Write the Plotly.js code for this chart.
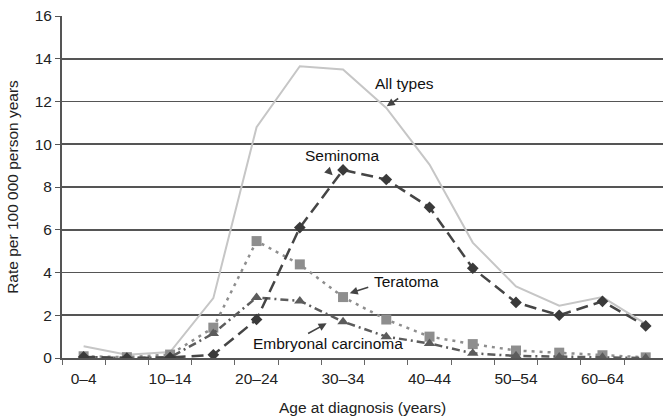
<!DOCTYPE html>
<html>
<head>
<meta charset="utf-8">
<script src="https://cdn.plot.ly/plotly-3.0.1.min.js"></script>
<style>html,body{margin:0;padding:0;background:#fff;}#chart{width:663px;height:420px;}</style>
</head>
<body>
<div id="chart"></div>
<script>
var ageGroups = ['0–4','5–9','10–14','15–19','20–24','25–29','30–34','35–39','40–44','45–49','50–54','55–59','60–64','65+'];
var tickLabels = ['0–4','','10–14','','20–24','','30–34','','40–44','','50–54','','60–64',''];
var allTypes  = [0.55, 0.15, 0.28, 2.8, 10.8, 13.65, 13.5, 11.7, 9.05, 5.4, 3.35, 2.45, 2.85, 1.6];
var seminoma  = [0.05, 0.0, 0.02, 0.15, 1.8, 6.1, 8.8, 8.35, 7.05, 4.2, 2.6, 2.0, 2.65, 1.5];
var teratoma  = [0.08, 0.04, 0.16, 1.42, 5.47, 4.38, 2.85, 1.8, 1.0, 0.65, 0.35, 0.25, 0.13, 0.03];
var embryonal = [0.05, 0.0, 0.03, 1.15, 2.83, 2.67, 1.7, 1.0, 0.68, 0.22, 0.1, 0.05, 0.03, 0.0];
var yTicks = [0, 2, 4, 6, 8, 10, 12, 14, 16];

var FONT = '"Liberation Sans", Arial, Helvetica, sans-serif';

var traces = [
  {x: ageGroups, y: allTypes, name: 'All types', type: 'scatter', mode: 'lines',
   line: {color: '#c6c6c6', width: 2}},
  {x: ageGroups, y: teratoma, name: 'Teratoma', type: 'scatter', mode: 'lines+markers',
   line: {color: '#8e8e8e', width: 2.5, dash: '3px,5px'},
   marker: {symbol: 'square', size: 10, color: '#8e8e8e'}},
  {x: ageGroups, y: embryonal, name: 'Embryonal carcinoma', type: 'scatter', mode: 'lines+markers',
   line: {color: '#5c5c5c', width: 2.5, dash: '8px,4px,2px,4px'},
   marker: {symbol: 'triangle-up', size: 10, color: '#5c5c5c'}},
  {x: ageGroups, y: seminoma, name: 'Seminoma', type: 'scatter', mode: 'lines+markers',
   line: {color: '#454545', width: 2.5, dash: '12px,6px'},
   marker: {symbol: 'diamond', size: 9, color: '#3a3a3a'}}
];

function label(text, x, y) {
  return {text: text, x: x, y: y, xref: 'x', yref: 'y', showarrow: false,
          font: {family: FONT, size: 15.5, color: '#111'}};
}
function arrow(x, y, ax, ay) {
  return {text: ' ', x: x, y: y, xref: 'x', yref: 'y', showarrow: true,
          ax: ax, ay: ay, arrowhead: 2, arrowsize: 1, arrowwidth: 1.6,
          arrowcolor: '#444', standoff: 0, startstandoff: 0};
}

var layout = {
  width: 663, height: 420,
  margin: {l: 62, r: 0, t: 16, b: 62},
  paper_bgcolor: '#fff', plot_bgcolor: '#fff',
  showlegend: false,
  font: {family: FONT, size: 15.5, color: '#222'},
  xaxis: {
    type: 'category', range: [-0.5, 13.4],
    tickmode: 'array', tickvals: ageGroups, ticktext: tickLabels, tickangle: 0,
    tickson: 'boundaries', ticks: 'outside', ticklen: 5, tickwidth: 1, tickcolor: '#666',
    ticklabelstandoff: 5,
    showgrid: false, zeroline: false,
    showline: true, linecolor: '#555', linewidth: 2,
    tickfont: {family: FONT, size: 15.5, color: '#222'},
    title: {text: 'Age at diagnosis (years)', font: {family: FONT, size: 15.5, color: '#222'}, standoff: 17},
    automargin: false, fixedrange: true
  },
  yaxis: {
    range: [0, 16], tickmode: 'array', tickvals: yTicks,
    ticks: 'outside', ticklen: 5, tickwidth: 1, tickcolor: '#555',
    showgrid: true, gridcolor: '#555', gridwidth: 1.6,
    zeroline: false, showline: true, linecolor: '#555', linewidth: 2,
    tickfont: {family: FONT, size: 15.5, color: '#222'},
    title: {text: 'Rate per 100 000 person years', font: {family: FONT, size: 15.5, color: '#222'}, standoff: 12},
    automargin: false, fixedrange: true
  },
  annotations: [
    label('All types', 7.43, 12.85),
    arrow(7.01, 11.78, 15, -10),
    label('Seminoma', 5.97, 9.48),
    arrow(5.76, 8.55, -8, -8),
    label('Teratoma', 7.47, 3.59),
    arrow(6.155, 3.03, 22, -7),
    label('Embryonal carcinoma', 5.65, 0.69),
    arrow(5.62, 1.62, -22, 12)
  ]
};

Plotly.newPlot('chart', traces, layout, {staticPlot: true, displayModeBar: false});
</script>
</body>
</html>
